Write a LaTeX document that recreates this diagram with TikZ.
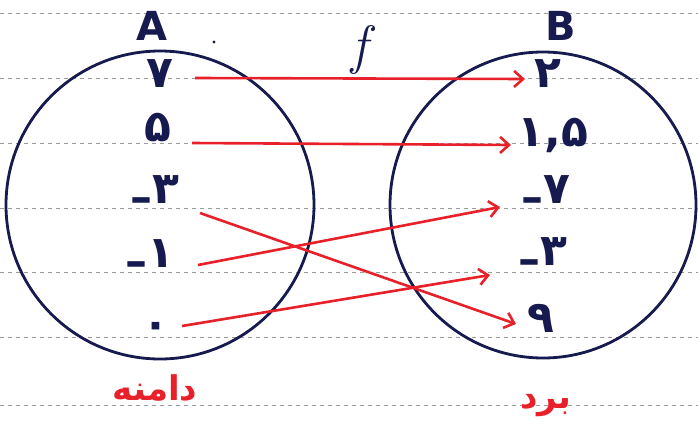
\documentclass[tikz,border=0pt]{standalone}
\usepackage{fontspec}
\usetikzlibrary{arrows.meta}
\TeXXeTstate=1
\newfontfamily\fa[Script=Arabic]{DejaVu Sans}
\newfontfamily\lat{DejaVu Sans}
\newfontfamily\lmit{Latin Modern Roman}
\definecolor{ink}{HTML}{161A4E}
\definecolor{pen}{HTML}{E8202A}
\definecolor{rulegray}{HTML}{9A9A9A}
\begin{document}
\begin{tikzpicture}[x=1pt,y=-1pt,
  rule/.style={rulegray,line width=0.8pt,dash pattern=on 4pt off 4pt},
  circ/.style={ink,line width=2.8pt},
  dig/.style={ink,font=\fa\bfseries\fontsize{44}{48}\selectfont,inner sep=0pt},
  setname/.style={ink,font=\lat\bfseries\fontsize{40}{44}\selectfont,inner sep=0pt},
  fname/.style={ink,font=\lmit\itshape\fontsize{54}{58}\selectfont,inner sep=0pt},
  lab/.style={pen,font=\fa\bfseries\fontsize{34}{38}\selectfont,inner sep=0pt},
  map/.style={pen,line width=2.6pt,-{Straight Barb[length=9pt,width=16pt,line width=2.6pt]}}]
\useasboundingbox (0,0) rectangle (698,423);
\fill[white] (0,0) rectangle (698,423);
\foreach \yy in {13,78,143,208,272,337,405}
  \draw[rule] (0,\yy) -- (698,\yy);
\draw[circ] (160,205) circle[radius=154pt];
\draw[circ] (543,205) circle[radius=153pt];
\fill[ink] (214,42) circle[radius=1.6pt];
% labels
\node[setname] (A) at (152,26) {A};
\node[setname] (B) at (561,26) {B};
\node[fname] (f) at (360,50) {f};
% domain
\node[dig] (l7) at (160,74) {۷};
\node[dig] (l5) at (158,128) {۵};
\node[dig] (lm3) at (155,194) {\raisebox{-0.2em}{–}۳};
\node[dig] (lm1) at (150,258) {\raisebox{-0.2em}{–}۱};
\node[dig] (l0) at (156,330) {۰};
% range
\node[dig] (r2) at (548,74) {۲};
\node[dig] (r15) at (553,135) {۱,۵};
\node[dig] (rm7) at (546,194) {\raisebox{-0.2em}{–}۷};
\node[dig] (rm3) at (543,256) {\raisebox{-0.2em}{–}۳};
\node[dig] (r9) at (541,318) {۹};
% arrow ends
\coordinate (s1) at (195,78);  \coordinate (e1) at (525,79);
\coordinate (s2) at (192,143); \coordinate (e2) at (511,145);
\coordinate (s3) at (200,213); \coordinate (e3) at (516,324);
\coordinate (s4) at (198,265); \coordinate (e4) at (500,207);
\coordinate (s5) at (182,326); \coordinate (e5) at (490,275);
\draw[map] (s1) -- (e1);
\draw[map] (s2) -- (e2);
\draw[map] (s3) -- (e3);
\draw[map] (s4) -- (e4);
\draw[map] (s5) -- (e5);
% red words
\node[lab] (dom) at (155,388) {\beginR دامنه\endR};
\node[lab] (ran) at (546,406) {\beginR برد\endR};
\end{tikzpicture}
\end{document}
